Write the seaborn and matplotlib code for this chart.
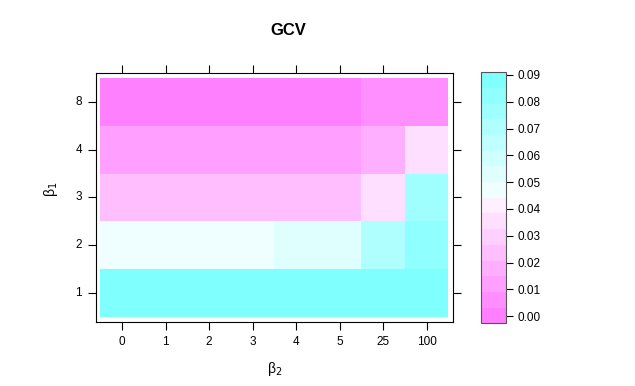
import numpy as np
import pandas as pd
import seaborn as sns
import matplotlib
matplotlib.use('Agg')
import matplotlib.pyplot as plt
from matplotlib.colors import ListedColormap

# levels of the two tuning parameters
beta2 = ['0', '1', '2', '3', '4', '5', '25', '100']
beta1 = ['8', '4', '3', '2', '1']   # listed top to bottom

# GCV value per cell
gcv_b8 = [0.0010, 0.0010, 0.0010, 0.0010, 0.0010, 0.0010, 0.0060, 0.0060]
gcv_b4 = [0.0120, 0.0120, 0.0120, 0.0120, 0.0120, 0.0120, 0.0180, 0.0350]
gcv_b3 = [0.0240, 0.0240, 0.0240, 0.0240, 0.0240, 0.0240, 0.0350, 0.0765]
gcv_b2 = [0.0470, 0.0470, 0.0470, 0.0470, 0.0530, 0.0530, 0.0700, 0.0820]
gcv_b1 = [0.0890, 0.0890, 0.0890, 0.0890, 0.0890, 0.0890, 0.0890, 0.0890]

cbar_ticks = [0.00, 0.01, 0.02, 0.03, 0.04, 0.05, 0.06, 0.07, 0.08, 0.09]
zmin, zmax = -0.0027, 0.0910

sns.set_style('white')
plt.rcParams['font.family'] = ['Liberation Sans', 'DejaVu Sans']
plt.rcParams['text.color'] = 'black'
plt.rcParams['xtick.color'] = 'black'
plt.rcParams['ytick.color'] = 'black'

df = pd.DataFrame([gcv_b8, gcv_b4, gcv_b3, gcv_b2, gcv_b1], index=beta1, columns=beta2)

# reversed cm.colors(16): magenta -> white -> cyan
mag = [(1, 1 - s, 1) for s in np.linspace(0.5, 0.0625, 8)]
cya = [(1 - s, 1, 1) for s in np.linspace(0.0625, 0.5, 8)]
cmap = ListedColormap(mag + cya)

fig = plt.figure(figsize=(6.35, 3.86), dpi=100)
ax = fig.add_axes([0.1512, 0.1666, 0.5617, 0.6435])
cax = fig.add_axes([0.7575, 0.1624, 0.040, 0.6503])

sns.heatmap(df, ax=ax, cmap=cmap, vmin=zmin, vmax=zmax, cbar_ax=cax)

ax.set_xlim(-0.1, len(beta2) + 0.1)
ax.set_ylim(len(beta1) + 0.1, -0.1)
for sp in ax.spines.values():
	sp.set_visible(True)
	sp.set_color('black')
	sp.set_linewidth(0.8)
ax.tick_params(top=True, right=True, bottom=True, left=True, labeltop=False, labelright=False,
	direction='out', length=6, width=0.8, labelsize=8.5, pad=4, colors='black')
ax.set_xticklabels(beta2, rotation=0)
ax.set_yticklabels(beta1, rotation=0)
ax.set_xlabel('')
ax.set_ylabel('')

cax.set_yticks(cbar_ticks)
cax.set_yticklabels(['%.2f' % t for t in cbar_ticks])
cax.tick_params(right=True, direction='out', length=5, width=0.8, labelsize=8.5, pad=3, colors='black')
cb = ax.collections[0].colorbar
cb.outline.set_edgecolor('#555555')
cb.outline.set_linewidth(0.8)

fig.text(0.4535, 0.92, 'GCV', ha='center', va='center', fontsize=12, weight='bold')
fig.text(0.432, 0.045, 'β$_2$', ha='center', va='center', fontsize=10)
fig.text(0.080, 0.51, 'β$_1$', ha='center', va='center', fontsize=10, rotation=90)

fig.savefig('out.png', dpi=100)
